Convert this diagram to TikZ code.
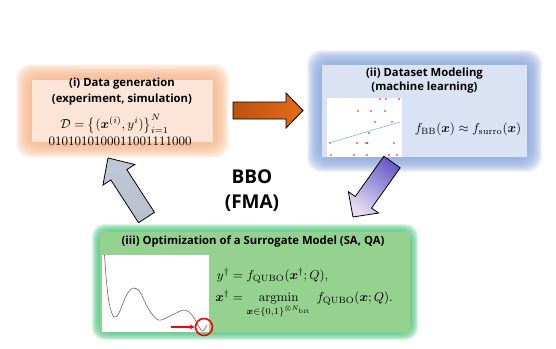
\documentclass[tikz,border=0pt]{standalone}
\usepackage{amsmath,bm}
\usepackage{fontspec}
\setsansfont{Open Sans}
\usetikzlibrary{calc,arrows.meta}
\definecolor{orglow}{HTML}{F5B68A}
\definecolor{orcore}{HTML}{FCE4D6}
\definecolor{blglow}{HTML}{8FAADC}
\definecolor{blcore}{HTML}{DAE3F3}
\definecolor{grglow}{HTML}{4FC47E}
\definecolor{grcore}{HTML}{95D18F}
\definecolor{lineblue}{HTML}{86B6DE}
\tikzset{
  ttl/.style={font=\sffamily\bfseries\fontsize{11.3}{13}\selectfont, inner sep=0pt},
  mth/.style={scale=1.3, inner sep=0pt},
  core/.style={inner sep=0pt, outer sep=0pt},
  plotbg/.style={fill=white, inner sep=0pt, outer sep=0pt},
  dot/.style={fill=red},
  blockarrow/.style={draw=black, line width=0.8pt, line join=miter},
}
\begin{document}
\begin{tikzpicture}[x=1pt,y=-1pt]
\useasboundingbox (0,0) rectangle (556,348);
% ---- glows
\foreach \k in {0,...,16}
  \fill[orglow, opacity=0.12, rounded corners=14pt] (32-\k,80-\k) rectangle (213+\k,142+\k);
\foreach \k in {0,...,15}
  \fill[blglow, opacity=0.14, rounded corners=14pt] (322-\k,65-\k) rectangle (527+\k,157+\k);
\foreach \k in {0,...,8}
  \fill[grglow, opacity=0.2, rounded corners=12pt] (100-\k,232-\k) rectangle (410+\k,332+\k);
% ---- cores
\node[core, fill=orcore, minimum width=181pt, minimum height=62pt] (c1) at (122.5,111) {};
\node[core, fill=blcore, minimum width=205pt, minimum height=92pt] (c2) at (424.5,111) {};
\node[core, fill=grcore, minimum width=310pt, minimum height=100pt, rounded corners=4pt] (c3) at (255,282) {};
% ---- box (i)
\node[ttl] (t1a) at (122,84) {(i) Data generation};
\node[ttl] (t1b) at (122,100) {(experiment, simulation)};
\node[mth] (f1) at (114.5,124) {$\mathcal{D}=\left\{(\bm{x}^{(i)},y^{i})\right\}_{i=1}^{N}$};
\node[mth] (b1) at (120,141) {0101010100011001111000};
% ---- box (ii)
\node[ttl] (t2a) at (424.5,74) {(ii) Dataset Modeling};
\node[ttl] (t2b) at (424.5,88) {(machine learning)};
\node[plotbg, minimum width=75pt, minimum height=59pt] (p2) at (364.5,127.5) {};
\foreach \px/\py in {380/99,386/99,399/99,358/111,371/111,385/111,375/122,392/122,369/133,330/143,357/143,366/143,367.5/143,394/143,331/155,354/155,367/155,389/155,397/155}
  \fill[dot] (\px,\py) circle (0.9pt);
\coordinate (l2a) at (329,143);
\coordinate (l2b) at (400,122);
\draw[lineblue, line width=0.6pt] (l2a) -- (l2b);
\node[mth] (f2) at (468,129) {$f_{\mathrm{BB}}(\bm{x})\approx f_{\mathrm{surro}}(\bm{x})$};
% ---- box (iii)
\node[ttl] (t3) at (253,242) {(iii) Optimization of a Surrogate Model (SA, QA)};
\node[plotbg, minimum width=107pt, minimum height=77pt] (p3) at (155.5,293.5) {};
\draw[black!60, line width=0.6pt] plot[smooth, tension=0.55] coordinates {(104.5,255) (106.5,282) (109.5,305) (114,317) (119,313) (126,296) (133,288) (140,292) (148,308) (158,320) (170,316) (184,310) (192,315) (199,327) (203,331) (207,325)};
\node[draw=red, circle, line width=1.6pt, minimum size=17pt, inner sep=0pt] (circ) at (204,327) {};
\coordinate (ra) at (171,327);
\draw[red, line width=1.4pt, -{Stealth[length=5pt,width=5pt]}] (ra) -- (circ.west);
\node[mth, anchor=west] (f3) at (215,293) {$\begin{aligned} y^{\dagger} &= f_{\mathrm{QUBO}}(\bm{x}^{\dagger};Q),\\ \bm{x}^{\dagger} &= \operatorname*{argmin}_{\bm{x}\in\{0,1\}^{\otimes N_{\mathrm{bit}}}}\; f_{\mathrm{QUBO}}(\bm{x};Q). \end{aligned}$};
% ---- BBO
\node[font=\sffamily\bfseries\fontsize{19}{22}\selectfont, inner sep=0pt] (bbo) at (252,177) {BBO};
\node[font=\sffamily\bfseries\fontsize{19}{22}\selectfont, inner sep=0pt] (fma) at (252,203) {(FMA)};
% ---- block arrows
% orange
\coordinate (oT) at (233,110.5); \coordinate (oP) at (303,110.5);
\coordinate (oN) at ($(oP)!17pt!(oT)$);
\shade[blockarrow, left color={rgb,255:red,190;green,82;blue,15}, middle color={rgb,255:red,236;green,118;blue,32}, right color={rgb,255:red,228;green,108;blue,25}]
  ($(oT)!8.5pt!90:(oP)$) -- ($(oN)!8.5pt!90:(oP)$) -- ($(oN)!17.5pt!90:(oP)$) -- (oP) -- ($(oN)!17.5pt!-90:(oP)$) -- ($(oN)!8.5pt!-90:(oP)$) -- ($(oT)!8.5pt!-90:(oP)$) -- cycle;
% purple
\coordinate (uT) at (392,162); \coordinate (uP) at (353,217);
\coordinate (uN) at ($(uP)!18pt!(uT)$);
\shade[blockarrow, bottom color={rgb,255:red,105;green,92;blue,200}, middle color={rgb,255:red,170;green,140;blue,210}, top color={rgb,255:red,228;green,220;blue,242}, shading angle=144.7]
  ($(uT)!10pt!90:(uP)$) -- ($(uN)!10pt!90:(uP)$) -- ($(uN)!18.5pt!90:(uP)$) -- (uP) -- ($(uN)!18.5pt!-90:(uP)$) -- ($(uN)!10pt!-90:(uP)$) -- ($(uT)!10pt!-90:(uP)$) -- cycle;
% gray
\coordinate (gT) at (146.5,217.5); \coordinate (gP) at (108,158);
\coordinate (gN) at ($(gP)!20pt!(gT)$);
\shade[blockarrow, bottom color={rgb,255:red,185;green,193;blue,206}, middle color={rgb,255:red,140;green,149;blue,162}, top color={rgb,255:red,192;green,199;blue,212}, shading angle=32.9]
  ($(gT)!9.5pt!90:(gP)$) -- ($(gN)!9.5pt!90:(gP)$) -- ($(gN)!19pt!90:(gP)$) -- (gP) -- ($(gN)!19pt!-90:(gP)$) -- ($(gN)!9.5pt!-90:(gP)$) -- ($(gT)!9.5pt!-90:(gP)$) -- cycle;
\end{tikzpicture}
\end{document}
